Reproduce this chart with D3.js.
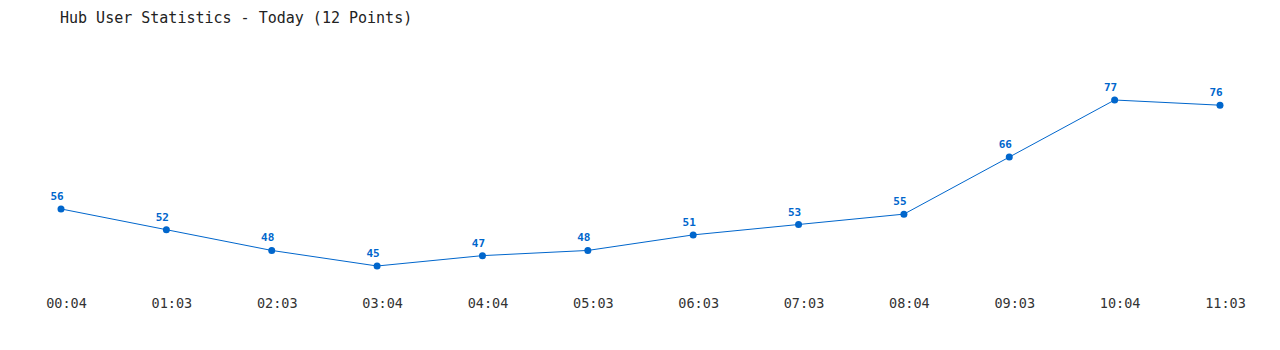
<!DOCTYPE html>
<html>
<head>
<meta charset="utf-8">
<script src="https://cdn.jsdelivr.net/npm/d3@7"></script>
<style>
  body { margin: 0; background: #fff; }
  svg { display: block; font-family: "DejaVu Sans Mono", "Liberation Mono", monospace; }
</style>
</head>
<body>
<div id="chart"></div>
<script>
const times = ["00:04", "01:03", "02:03", "03:04", "04:04", "05:03", "06:03", "07:03", "08:04", "09:03", "10:04", "11:03"];
const users = [56, 52, 48, 45, 47, 48, 51, 53, 55, 66, 77, 76];
const title = "Hub User Statistics - Today (12 Points)";

const width = 1280, height = 350;
const blue = "#0066cc";

const svg = d3.select("#chart").append("svg")
  .attr("width", width)
  .attr("height", height);

svg.append("text")
  .attr("x", 60)
  .attr("y", 23)
  .attr("font-size", 15)
  .attr("fill", "#222")
  .text(title);

const x = d3.scalePoint().domain(times).range([61, 1220]);
const y = d3.scaleLinear().domain(d3.extent(users)).range([266, 100]);

const data = times.map((t, i) => ({ t, v: users[i] }));

svg.append("path")
  .datum(data)
  .attr("fill", "none")
  .attr("stroke", blue)
  .attr("stroke-width", 1)
  .attr("d", d3.line().x(d => x(d.t)).y(d => y(d.v)));

svg.append("g")
  .selectAll("circle")
  .data(data)
  .join("circle")
  .attr("cx", d => x(d.t))
  .attr("cy", d => y(d.v))
  .attr("r", 3.5)
  .attr("fill", blue);

svg.append("g")
  .selectAll("text")
  .data(data)
  .join("text")
  .attr("x", d => x(d.t) - 4)
  .attr("y", d => y(d.v) - 9)
  .attr("text-anchor", "middle")
  .attr("font-size", 11)
  .attr("font-weight", "bold")
  .attr("fill", blue)
  .text(d => d.v);

// x axis labels, no axis line; labels sit a little right of the points
const xAxis = svg.append("g")
  .attr("transform", "translate(5,290)")
  .call(d3.axisBottom(x).tickSize(0).tickPadding(8));
xAxis.select(".domain").remove();
xAxis.selectAll("text")
  .attr("font-size", 13.5)
  .attr("font-family", "\"DejaVu Sans Mono\", \"Liberation Mono\", monospace")
  .attr("fill", "#333");
</script>
</body>
</html>
